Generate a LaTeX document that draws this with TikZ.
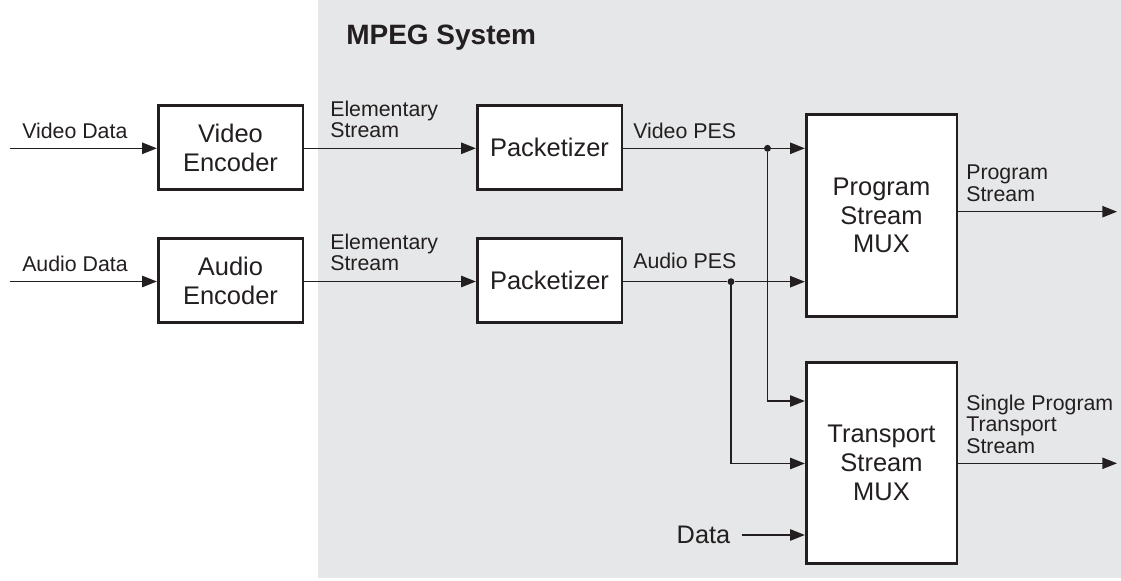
\documentclass[tikz,border=0pt]{standalone}
\usepackage{fontspec}
\setmainfont{Liberation Sans}
\usetikzlibrary{arrows.meta}
\definecolor{bggray}{HTML}{E6E7E8}
\definecolor{ink}{HTML}{231F20}
\begin{document}
\begin{tikzpicture}[x=0.75pt,y=-0.75pt,
  box/.style={draw=ink,line width=2pt,fill=white,align=center,text=ink,
    font=\fontsize{19.1}{21.6}\selectfont,inner sep=0pt},
  enc/.style={box,minimum width=108.5pt,minimum height=63pt},
  mux/.style={box,minimum width=113pt,minimum height=151pt},
  lbl/.style={text=ink,align=left,inner sep=0pt,font=\fontsize{16}{16.1}\selectfont},
  conn/.style={draw=ink,line width=1pt},
  arr/.style={conn,-{Triangle[length=11pt,width=8.5pt]}},
  dot/.style={circle,fill=ink,inner sep=0pt,minimum size=5.2pt}]
\useasboundingbox (0,0) rectangle (1121,581);
\fill[white] (0,0) rectangle (1121,581);
\fill[bggray] (318,0) rectangle (1121,578);

\node[text=ink,anchor=base west,inner sep=0pt,font=\fontsize{21}{24}\selectfont\bfseries] (title) at (346,44.3) {MPEG System};

\node[enc] (venc) at (230.5,147.5) {Video\\Encoder};
\node[enc] (aenc) at (230.5,280.5) {Audio\\Encoder};
\node[enc] (vpack) at (549.5,147.5) {Packetizer};
\node[enc] (apack) at (549.5,280.5) {Packetizer};
\node[mux] (psmux) at (881.5,215.5) {Program\\Stream\\MUX};
\node[mux] (tsmux) at (881.5,463) {Transport\\Stream\\MUX};

% inputs
\coordinate (vin) at (10,148.3);
\coordinate (ain) at (10,281.5);
\draw[arr] (vin) -- (venc.west |- vin);
\draw[arr] (ain) -- (aenc.west |- ain);
\node[lbl,anchor=base west] (vdl) at (22,139) {Video Data};
\node[lbl,anchor=base west] (adl) at (22,272) {Audio Data};

% elementary streams
\draw[arr] (venc.east |- vin) -- (vpack.west |- vin);
\draw[arr] (aenc.east |- ain) -- (apack.west |- ain);
\node[lbl,anchor=north west] (es1) at (330,100.7) {Elementary\\Stream};
\node[lbl,anchor=north west] (es2) at (330,233.7) {Elementary\\Stream};

% PES
\node[dot] (vdot) at (767.5,148.3) {};
\node[dot] (adot) at (731,281.7) {};
\draw[conn] (vpack.east |- vdot) -- (vdot);
\draw[arr] (vdot) -- (psmux.west |- vdot);
\draw[conn] (apack.east |- adot) -- (adot);
\draw[arr] (adot) -- (psmux.west |- adot);
\node[lbl,anchor=base west] (vpes) at (633,138.3) {Video PES};
\node[lbl,anchor=base west] (apes) at (633,268.3) {Audio PES};

\coordinate (vturn) at (767.5,401);
\coordinate (aturn) at (731,463.5);
\draw[arr] (vdot) -- (vturn) -- (tsmux.west |- vturn);
\draw[arr] (adot) -- (aturn) -- (tsmux.west |- aturn);

% data
\node[text=ink,inner sep=0pt,font=\fontsize{19}{22}\selectfont,anchor=base east] (data) at (730.5,543.3) {Data};
\coordinate (dstart) at (741.7,535);
\draw[arr] (dstart) -- (tsmux.west |- dstart);

% outputs
\coordinate (psout) at (1117,211.7);
\coordinate (tsout) at (1117,463.3);
\draw[arr] (psmux.east |- psout) -- (psout);
\draw[arr] (tsmux.east |- tsout) -- (tsout);
\node[lbl,anchor=north west] (psl) at (966,165) {Program\\Stream};
\node[lbl,anchor=north west] (tsl) at (966,394.7) {Single Program\\Transport\\Stream};
\end{tikzpicture}
\end{document}
